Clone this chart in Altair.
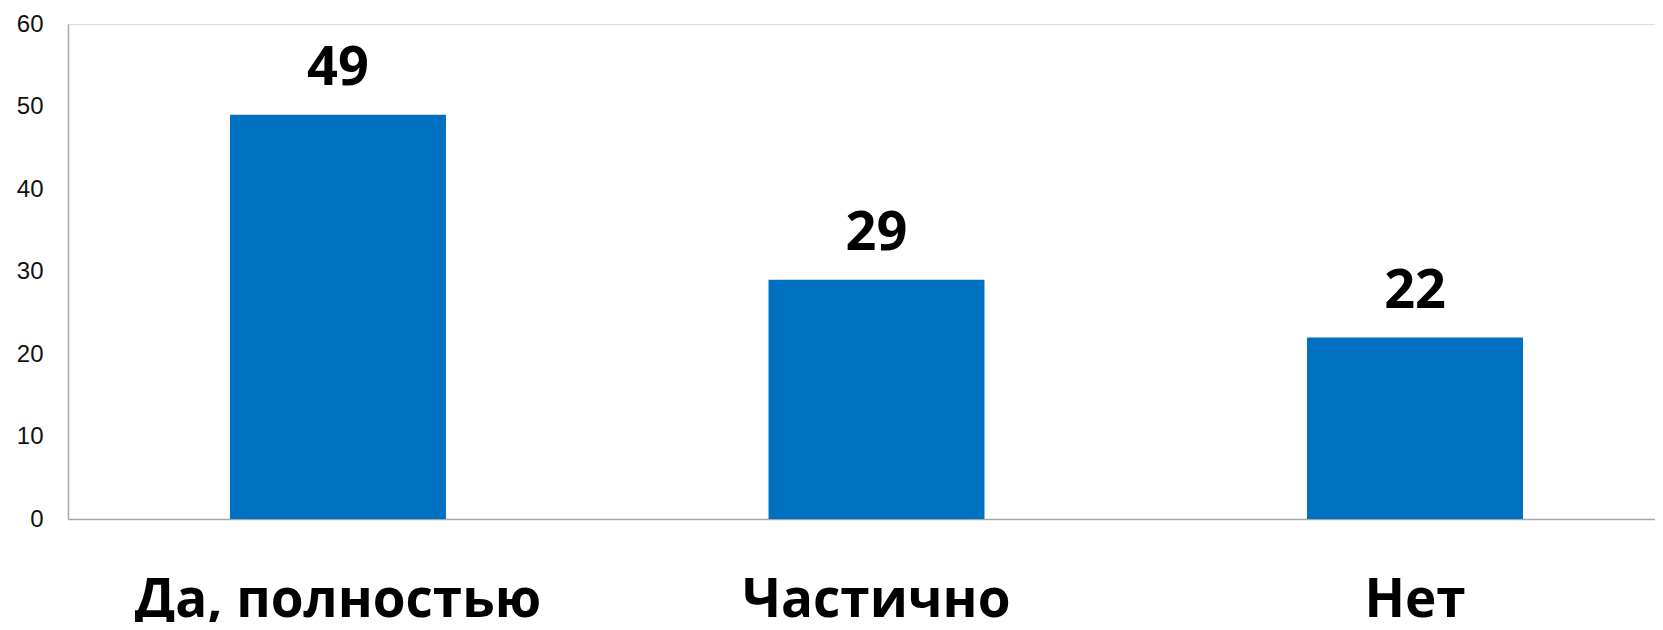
import altair as alt
import pandas as pd

categories = ["Да, полностью", "Частично", "Нет"]
values = [49, 29, 22]

df = pd.DataFrame({"cat": categories, "val": values})

x = alt.X(
    "cat:N",
    sort=categories,
    title=None,
    scale=alt.Scale(paddingInner=0.599, paddingOuter=0.273, align=0.551),
    axis=alt.Axis(
        labelAngle=0,
        labelFont="Open Sans",
        labelFontWeight="bold",
        labelFontSize=53,
        labelColor="#000000",
        labelBaseline="alphabetic",
        labelPadding=97,
        labelLimit=0,
        ticks=False,
        domainColor="#a6a6a6",
        domainWidth=1.5,
    ),
)

y = alt.Y(
    "val:Q",
    title=None,
    scale=alt.Scale(domain=[0, 60], nice=False),
    axis=alt.Axis(
        values=[0, 10, 20, 30, 40, 50, 60],
        grid=False,
        ticks=False,
        labelFont="Liberation Sans",
        labelFontSize=24,
        labelColor="#111111",
        labelPadding=25,
        domainColor="#a6a6a6",
        domainWidth=1.5,
    ),
)

bars = alt.Chart(df).mark_bar(color="#0070C0").encode(x=x, y=y)

text = alt.Chart(df).mark_text(
    font="Open Sans",
    fontWeight="bold",
    fontSize=54,
    color="#000000",
    baseline="alphabetic",
    dy=-30,
).encode(x=alt.X("cat:N", sort=categories), y="val:Q", text="val:Q")

chart = (
    alt.layer(bars, text)
    .properties(
        width=1587,
        height=495,
        autosize=alt.AutoSizeParams(type="none"),
        padding={"left": 60, "top": 16, "right": 0, "bottom": 103},
    )
    .configure_view(stroke=None)
    .configure(background="#ffffff")
)

chart.save("out.html", embed_options={"renderer": "svg", "actions": False})
